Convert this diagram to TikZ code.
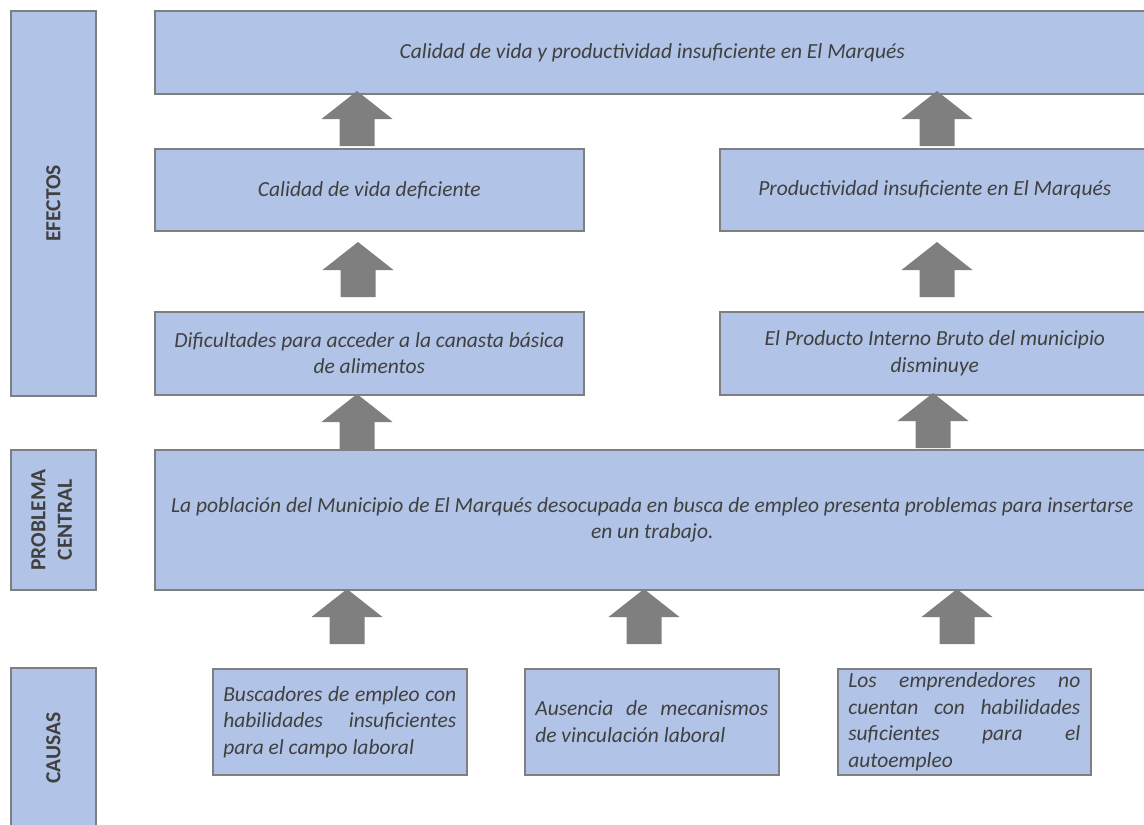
\documentclass[tikz,border=0pt]{standalone}
\usepackage{fontspec}
\setmainfont{Carlito}
\usepackage{graphicx}

\definecolor{cajaazul}{HTML}{B1C3E6}
\definecolor{bordegris}{HTML}{7F7F7F}
\definecolor{textogris}{HTML}{404040}

\tikzset{
  caja/.style={draw=bordegris, line width=1.6pt, fill=cajaazul, inner sep=0pt,
    anchor=north west, text=textogris, align=center,
    font=\fontsize{21.5}{26.5}\selectfont\itshape},
  etiqueta/.style={caja, font=\fontsize{21.5}{26.5}\selectfont\bfseries},
  causa/.style={caja, align=justify, text width=233pt, inner xsep=10.5pt,
    minimum height=106pt},
  flechagris/.style={fill=bordegris}
}
% block arrow pointing up, tip at #1
\newcommand{\flechaup}[1]{%
  \fill[flechagris] (#1) -- ++(35.5,28) -- ++(-18,0) -- ++(0,27) -- ++(-35,0)
    -- ++(0,-27) -- ++(-18,0) -- cycle;}

\begin{document}
\begin{tikzpicture}[x=1pt,y=-1pt]
\useasboundingbox (0,0) rectangle (1144,825);
\clip (0,0) rectangle (1144,825);

% left column
\node[etiqueta, minimum width=85pt, minimum height=385pt] (efectos) at (10,10) {\rotatebox{90}{EFECTOS}};
\node[etiqueta, minimum width=85pt, minimum height=140pt] (central) at (10,449)
  {\rotatebox{90}{\begin{tabular}{@{}c@{}}PROBLEMA\\CENTRAL\end{tabular}}};
\node[etiqueta, minimum width=85pt, minimum height=160pt] (causas) at (10,667) {\rotatebox{90}{CAUSAS}};

% effects
\node[caja, minimum width=995pt, minimum height=83pt] (efectofinal) at (154,10)
  {Calidad de vida y productividad insuficiente en El Marqués};
\node[caja, minimum width=429pt, minimum height=82pt] (calidad) at (154,148) {Calidad de vida deficiente};
\node[caja, minimum width=430pt, minimum height=82pt] (productividad) at (719,148) {Productividad insuficiente en El Marqués};
\node[caja, minimum width=429pt, minimum height=83pt] (canasta) at (154,311)
  {Dificultades para acceder a la canasta básica\\de alimentos};
\node[caja, minimum width=430pt, minimum height=83pt] (pib) at (719,311)
  {El Producto Interno Bruto del municipio\\disminuye};

% central problem
\node[caja, minimum width=995pt, minimum height=140pt] (problema) at (154,449)
  {La población del Municipio de El Marqués desocupada en busca de empleo presenta problemas para insertarse\\en un trabajo.};

% causes
\node[causa] (buscadores) at (212,668)
  {Buscadores de empleo con\linebreak habilidades insuficientes\linebreak para el campo laboral};
\node[causa] (ausencia) at (524,668)
  {Ausencia de mecanismos\linebreak de vinculación laboral};
\node[causa, text width=232pt] (emprendedores) at (837,668)
  {Los emprendedores no\linebreak cuentan con habilidades\linebreak suficientes para el\linebreak autoempleo};

% arrow tips
\coordinate (p1) at (357,91);
\coordinate (p2) at (937,91);
\coordinate (p3) at (358,242);
\coordinate (p4) at (937,242);
\coordinate (p5) at (357,394);
\coordinate (p6) at (933,393);
\coordinate (p7) at (347,589);
\coordinate (p8) at (644,589);
\coordinate (p9) at (957,589);
\foreach \p in {p1,p2,p3,p4,p5,p6,p7,p8,p9}
  \flechaup{\p};
\end{tikzpicture}
\end{document}
